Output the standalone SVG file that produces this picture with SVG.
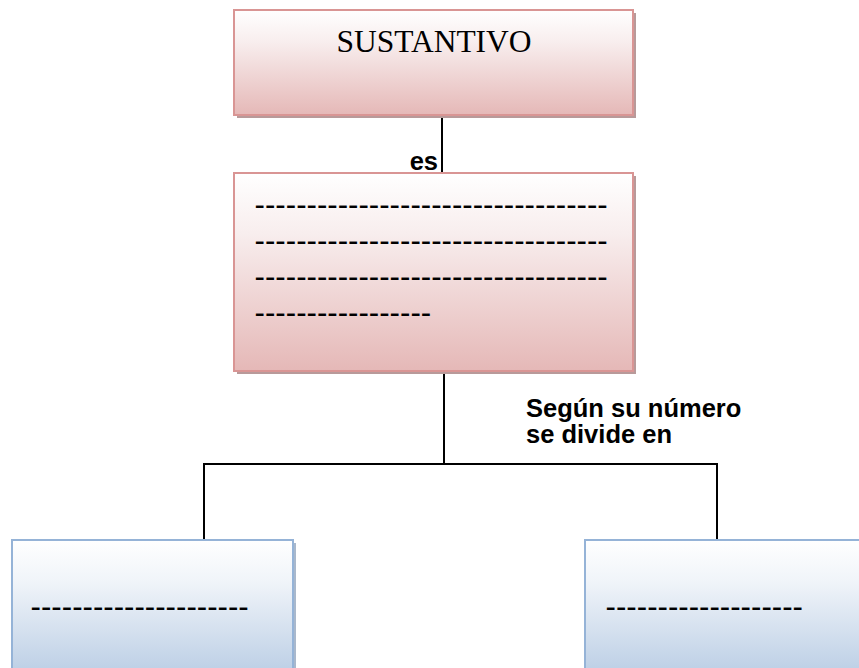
<svg xmlns="http://www.w3.org/2000/svg" width="859" height="668" viewBox="0 0 859 668">
<defs>
<linearGradient id="gPink" x1="0" y1="0" x2="0" y2="1">
<stop offset="0" stop-color="#ffffff"/>
<stop offset="0.3" stop-color="#f8eeee"/>
<stop offset="1" stop-color="#e5b8b7"/>
</linearGradient>
<linearGradient id="gBlue" x1="0" y1="0" x2="0" y2="1">
<stop offset="0" stop-color="#ffffff"/>
<stop offset="0.3" stop-color="#f0f4f9"/>
<stop offset="1" stop-color="#b8cce4"/>
</linearGradient>
<style>
.pink{fill:url(#gPink);stroke:#d99594;stroke-width:2}
.pshadow{fill:#b89a9a}
.blue{fill:url(#gBlue);stroke:#95b3d7;stroke-width:2}
.bshadow{fill:#a9b8cc}
.dash{font-family:"Liberation Sans",Arial,sans-serif;font-size:31.2px;fill:#000}
.lbl{font-family:"Liberation Sans",Arial,sans-serif;font-size:25.5px;font-weight:bold;fill:#000}
.title{font-family:"Liberation Serif","Times New Roman",serif;font-size:31.5px;fill:#000}
.conn{stroke:#000;stroke-width:2;fill:none}
</style>
</defs>
<rect width="859" height="668" fill="#ffffff"/>
<g id="connectors">
<line class="conn" x1="442" y1="115" x2="442" y2="173"/>
<polyline class="conn" points="444,371 444,464"/>
<polyline class="conn" points="204,539 204,464 717,464 717,539"/>
</g>
<g id="node-sustantivo">
<rect class="pshadow" x="237" y="13" width="399" height="105"/>
<rect class="pink" x="234" y="10" width="399" height="105"/>
<text class="title" x="434" y="52" text-anchor="middle">SUSTANTIVO</text>
</g>
<text class="lbl" x="438" y="170" text-anchor="end">es</text>
<g id="node-definicion">
<rect class="pshadow" x="237" y="176" width="399" height="198"/>
<rect class="pink" x="234" y="173" width="399" height="198"/>
<text class="dash" x="254.6" y="215">----------------------------------</text>
<text class="dash" x="254.6" y="251">----------------------------------</text>
<text class="dash" x="254.6" y="287">----------------------------------</text>
<text class="dash" x="254.6" y="323">-----------------</text>
</g>
<g id="label-numero">
<text class="lbl" x="526" y="417">Según su número</text>
<text class="lbl" x="526" y="443">se divide en</text>
</g>
<g id="node-left">
<rect class="bshadow" x="15" y="543" width="281" height="140"/>
<rect class="blue" x="12" y="540" width="281" height="140"/>
<text class="dash" x="30.6" y="617">---------------------</text>
</g>
<g id="node-right">
<rect class="bshadow" x="588" y="543" width="290" height="140"/>
<rect class="blue" x="585" y="540" width="290" height="140"/>
<text class="dash" x="605.6" y="617">-------------------</text>
</g>
</svg>
